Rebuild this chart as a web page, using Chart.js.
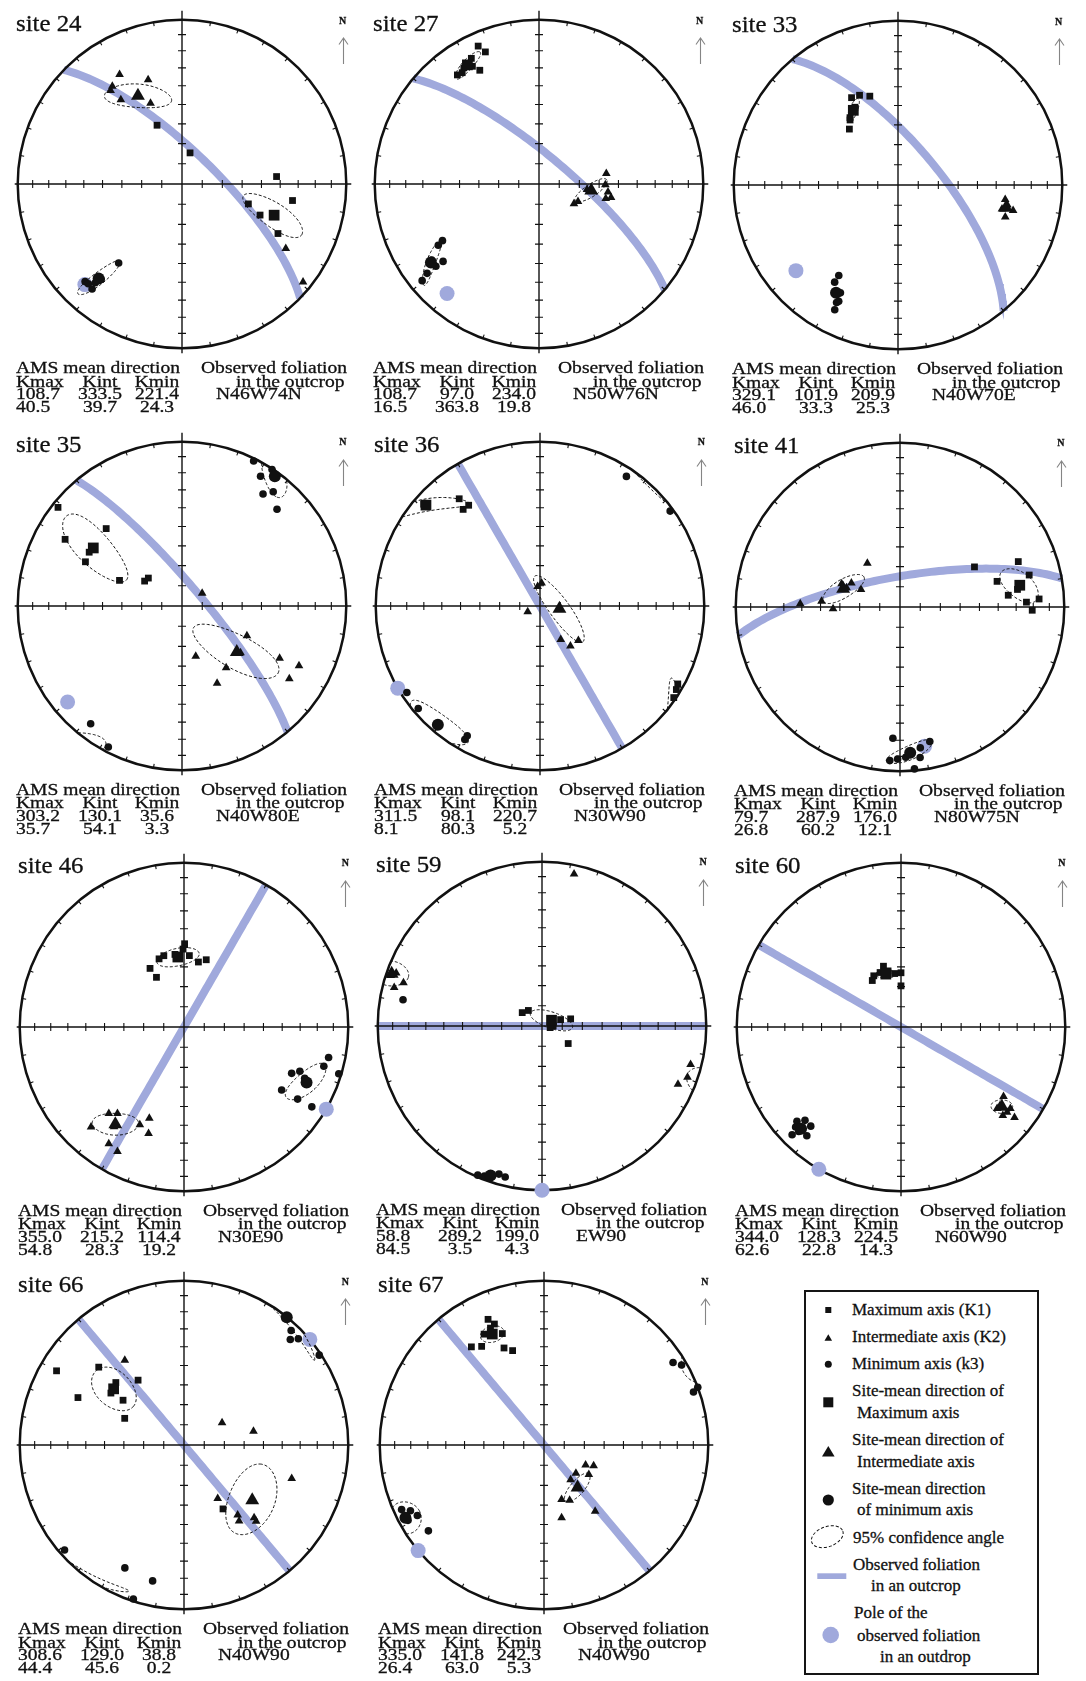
<!DOCTYPE html>
<html>
<head>
<meta charset="utf-8">
<title>AMS stereonets</title>
<script src="https://cdn.jsdelivr.net/npm/chart.js@4.4.1/dist/chart.umd.min.js"></script>
<style>
  html,body{margin:0;padding:0;background:#fff;}
  body{position:relative;width:1086px;height:1681px;overflow:hidden;font-family:"Liberation Serif","Times New Roman",serif;color:#111;}
  canvas.net{position:absolute;}
  .txt{position:absolute;white-space:nowrap;line-height:1;-webkit-text-stroke:0.3px #111;}
  #legend{position:absolute;left:804px;top:1290px;width:235px;height:385px;border:2px solid #151515;box-sizing:border-box;}
  #legendMarks{position:absolute;left:804px;top:1290px;}
</style>
</head>
<body>
<div id="legend"></div>
<svg id="legendMarks" width="235" height="385" viewBox="0 0 235 385"></svg>
<script>
// ---------------- data ----------------
const SITE_NAMES = ['site 24','site 27','site 33','site 35','site 36','site 41','site 46','site 59','site 60','site 66','site 67'];

// site-mean principal axes (trend, plunge in degrees)
const KMAX_TREND  = [108.7, 329.0, 329.1, 303.2, 311.5,  79.7, 355.0,  58.8, 344.0, 308.6, 335.0];
const KMAX_PLUNGE = [ 40.5,  16.5,  46.0,  35.7,   8.1,  26.8,  54.8,  84.5,  62.6,  44.4,  26.4];
const KINT_TREND  = [333.5,  97.0, 101.9, 130.1,  98.1, 287.9, 215.2, 289.2, 128.3, 129.0, 141.8];
const KINT_PLUNGE = [ 39.7,  63.8,  33.3,  54.1,  80.3,  60.2,  28.3,   3.5,  22.8,  45.6,  63.0];
const KMIN_TREND  = [221.4, 234.0, 209.9,  35.6, 220.7, 176.0, 114.4, 199.0, 224.5,  38.8, 242.3];
const KMIN_PLUNGE = [ 24.3,  19.8,  25.3,   3.3,   5.2,  12.1,  19.2,   4.3,  14.3,   0.2,   5.3];

// table cells printed differently from the plotted site 27 means: [site, row, column, text]
const TABLE_OVERRIDES = [[1, 0, 0, '108.7'], [1, 1, 1, '363.8']];

// observed foliation: printed code, dip direction and dip (degrees)
const FOLIATION_TEXT   = ['N46W74N','N50W76N','N40W70E','N40W80E','N30W90','N80W75N','N30E90','EW90','N60W90','N40W90','N40W90'];
const FOLIATION_DIPDIR = [44, 40, 50, 50, 60, 350, 300, 0, 30, 230, 50];
const FOLIATION_DIP    = [74, 76, 70, 80, 90, 75, 90, 90, 90, 90, 90];

// specimen axes [trend, plunge]
const S24_KMAX = [[337,58.1],[14.5,74.1],[85.5,41.8],[98.5,32.5],[106.7,55.3],[111.7,47.6],[117.3,34.6]];
const S24_KINT = [[330.3,24.3],[342,33.7],[324.5,27.8],[322.6,29.2],[324,36.8],[338.7,46.2],[121.9,26.5],[129,5.8]];
const S24_KMIN = [[218.7,38.3],[220.3,24.9],[224.8,17.4],[220.6,17],[223.2,17.8],[221.3,21.1]];

const S27_KMAX = [[336.2,9.1],[337.9,14.3],[332.5,23],[331.7,14.2],[327.1,16.9],[323.2,18.2],[325.4,18.8],[330.5,18.8]];
const S27_KINT = [[81.1,55.9],[90.6,56.8],[96.7,55.2],[102.2,55.8],[100.6,53.2],[114.2,68.8],[119.5,70.1],[96.4,66]];
const S27_KMIN = [[239.6,32.4],[238.7,29],[231.1,25.9],[231.4,20.8],[231.4,13.9],[230.4,8.5],[234.7,21.1]];

const S33_KMAX = [[332,39.6],[336.8,40.3],[342.4,42.7],[323.6,49.3],[319,52.8],[331,45],[324.5,48.3]];
const S33_KINT = [[97.7,34.5],[102.5,29],[106.6,32.4],[103,35.3],[100.4,32.8]];
const S33_KMIN = [[213.2,34.5],[213.1,30.1],[208.1,26.5],[207,21.6],[206.9,16],[207.6,20.4]];

const S35_KMAX = [[308.5,4],[299.7,19.2],[315.6,34.4],[294.6,35.6],[300.1,35],[292.3,56.2],[303.7,67.7],[309.7,68.3]];
const S35_KINT = [[57.6,78.2],[164.7,64.1],[144.4,51.9],[155.6,47.1],[114.6,54.2],[118.1,33.1],[117.1,21.1],[124.1,22.2],[128.6,52.4]];
const S35_KMIN = [[26.3,1.8],[31.2,8.5],[33.4,0.5],[35.9,17],[38.6,12],[44.5,18.6],[217.8,10.2],[207.6,3.6]];

const S36_KMAX = [[323,19.4],[321.5,25.8],[324.7,25.8],[311.2,6.6],[119.5,4.1],[124.4,1.5],[121.5,3]];
const S36_KINT = [[4,78.6],[353,80.3],[245,83.3],[148.2,70.5],[142.8,65],[132,64.3]];
const S36_KMIN = [[33.7,5.8],[53.9,2.2],[237,3.8],[229.9,3.5],[209.4,7.5],[209.3,10.4]];

const S41_KMAX = [[61.7,47.3],[69,23.9],[76.1,20.1],[75.2,38.8],[83.8,34.1],[87.8,24],[86.7,16.3],[91.4,20.6],[81.5,28.5]];
const S41_KINT = [[323.3,62.8],[291.8,58.6],[296.3,63],[294.2,68.8],[274.2,50.4],[271.8,39.1],[268.6,56.5],[289.7,61.7]];
const S41_KMIN = [[183.1,21.1],[183.8,7],[180.9,8.2],[172.4,8.4],[171.8,14.5],[167.5,17.3],[174.9,1.2],[177.8,9.3]];

const S46_KMAX = [[0.4,48],[359.3,50.8],[344.2,52.8],[339.9,53.6],[4.3,54.1],[12.5,56.7],[18.3,54.5],[329.9,56.1],[331,61.7],[352.9,53.3]];
const S46_KINT = [[222.9,18],[221,30.9],[217.6,34],[200.8,40.3],[204.3,35],[198.4,32.2],[212.8,16.6],[208.1,15.1],[215,26.7]];
const S46_KMIN = [[101.9,11],[105.7,12.6],[106.8,1.8],[113.3,29.4],[110.9,25.5],[114.6,18.2],[122.8,30],[122.4,19.2],[122,9.1],[113,21.3]];

const S59_KMAX = [[304.1,78.2],[318.8,79.8],[71,80.3],[76,75.4],[123.8,74.4],[90,84.5],[101,85.9]];
const S59_KINT = [[11.9,6],[290,6.2],[287.3,12.7],[284.6,7.8],[104.5,7.3],[109.4,6.8],[113.2,10.9],[288.5,3.3]];
const S59_KMIN = [[280.7,15],[203.3,1.3],[199.4,3],[196.2,6.8],[193.7,6],[201,2.4]];

const S60_KMAX = [[343.9,58.4],[332,61.1],[328.3,62.8],[353.2,63.2],[0,63],[0,69.6],[347,61.3],[339,60.9]];
const S60_KINT = [[124.1,25.6],[128.4,24.1],[126.7,18.1],[128.6,12.6],[131,19],[128.8,18.3],[130.3,24.3]];
const S60_KMIN = [[227.8,15.6],[225.8,19.6],[222.3,19.5],[224.4,12],[225.3,7.5],[220.9,13.5],[226.5,12.6]];

const S66_KMAX = [[300.2,11.2],[312.4,30.4],[294.1,30],[324.7,50],[312.5,43.1],[305.4,44.6],[306.3,52],[294.2,57.5],[148.6,52.4]];
const S66_KINT = [[325.1,37.1],[59.6,68.1],[78.8,54.5],[107.3,31.9],[147.8,58.4],[142.5,45.4],[144.1,42.3],[136.1,38.4],[136.6,36.3]];
const S66_KMIN = [[38.9,0],[43.1,5.1],[45.2,9.7],[47.1,5.6],[56.4,1.3],[228.7,3.6],[205.7,18.1],[193,16.2],[198.2,1.5]];

const S67_KMAX = [[336,17.4],[337.7,21.5],[331.6,24.3],[339.5,28.4],[323.5,26.6],[327.7,29.7],[337.6,36.3],[341.6,39.3],[335.4,22.8]];
const S67_KINT = [[115.6,67.1],[112.8,63.2],[131.4,68.9],[123.3,63.3],[142.5,68.3],[162.1,61.5],[155.1,59.6],[142.3,47.8],[166.4,52.4]];
const S67_KMIN = [[57.4,7.5],[59.8,3.5],[69.4,0],[70.5,3.9],[245.6,5.4],[243.8,10.3],[240.9,12.8],[241,6],[233.4,13.4]];

// 95% confidence ellipses: [axis (0 max, 1 int, 2 min), major-axis end trend, end plunge, minor half-angle]
const S24_CONF = [[0,112.9,21.9,5.5],[1,352.7,48,6],[2,218.8,39.8,2.5]];
const S27_CONF = [[0,335.8,12.8,3],[1,86.5,56,3],[2,240.2,32,2]];
const S33_CONF = [[0,335.1,41.6,2]];
const S35_CONF = [[0,295.1,59.4,7.5],[1,125,29.4,8],[2,41.1,13.1,5]];
const S36_CONF = [[0,325.3,25.6,3],[1,130,62.2,5],[2,207.9,7.7,7]];
const S41_CONF = [[0,86,17,6],[1,309.7,66.8,4.5],[2,166.8,17.8,4]];
const S46_CONF = [[0,11.6,52.2,4.5],[1,205.9,36.3,5.5],[2,105.6,11.5,5.5]];
const S59_CONF = [[0,93,74.9,4],[1,290,14.5,4.5]];
const S60_CONF = [[0,354.8,63.6,2],[1,126.2,17.2,3]];
const S66_CONF = [[0,307.2,58.2,8],[1,103.9,49.8,12],[2,57,6,2.5]];
const S67_CONF = [[0,340.1,29.1,4.5],[1,122.7,63.5,3.5],[2,242,15.3,6]];

// ---------------- layout ----------------
const CENTERS = [[181.5,184],[538.5,184],[897.5,185],[181.7,605.5],[540.3,605.5],[899.7,606.5],
                 [184.3,1026.5],[542,1025.5],[900.7,1026.5],[184.3,1445],[543.7,1445]];
const NET_R = 171.5;      // primitive radius, px
const HALF = 190;         // half size of each net canvas, px
const INK = '#111111';
const BAND = '#a0a9dc';

const SPECIMENS = [
  [S24_KMAX,S24_KINT,S24_KMIN],[S27_KMAX,S27_KINT,S27_KMIN],[S33_KMAX,S33_KINT,S33_KMIN],
  [S35_KMAX,S35_KINT,S35_KMIN],[S36_KMAX,S36_KINT,S36_KMIN],[S41_KMAX,S41_KINT,S41_KMIN],
  [S46_KMAX,S46_KINT,S46_KMIN],[S59_KMAX,S59_KINT,S59_KMIN],[S60_KMAX,S60_KINT,S60_KMIN],
  [S66_KMAX,S66_KINT,S66_KMIN],[S67_KMAX,S67_KINT,S67_KMIN]];
const CONFIDENCE = [S24_CONF,S27_CONF,S33_CONF,S35_CONF,S36_CONF,S41_CONF,S46_CONF,S59_CONF,S60_CONF,S66_CONF,S67_CONF];

// ---------------- lower-hemisphere equal-area projection ----------------
const D2R = Math.PI / 180;
function vec(trend, plunge) {
  const t = trend * D2R, p = plunge * D2R;
  return [Math.cos(p) * Math.sin(t), Math.cos(p) * Math.cos(t), Math.sin(p)];
}
function project(v) {
  let [e, n, d] = v;
  if (d < 0) { e = -e; n = -n; d = -d; }
  const k = 1 / Math.sqrt(1 + d);
  return { x: e * k, y: n * k };
}
const toPoint = tp => project(vec(tp[0], tp[1]));
const norm = v => { const l = Math.hypot(v[0], v[1], v[2]); return [v[0]/l, v[1]/l, v[2]/l]; };
const cross = (a, b) => [a[1]*b[2]-a[2]*b[1], a[2]*b[0]-a[0]*b[2], a[0]*b[1]-a[1]*b[0]];

function greatCircle(dipDir, dip) {
  const s = (dipDir - 90) * D2R, dd = dipDir * D2R, dp = dip * D2R;
  const sv = [Math.sin(s), Math.cos(s), 0];
  const dv = [Math.cos(dp) * Math.sin(dd), Math.cos(dp) * Math.cos(dd), Math.sin(dp)];
  const pts = [];
  for (let a = 0; a <= 180; a += 2) {
    const c = Math.cos(a * D2R), si = a === 180 ? 0 : Math.sin(a * D2R);
    pts.push(project([c*sv[0]+si*dv[0], c*sv[1]+si*dv[1], c*sv[2]+si*dv[2]]));
  }
  return pts;
}

function confidenceEllipse(center, end, minorDeg) {
  const m = vec(center[0], center[1]), e = vec(end[0], end[1]);
  const dot = m[0]*e[0] + m[1]*e[1] + m[2]*e[2];
  const u = norm([e[0]-dot*m[0], e[1]-dot*m[1], e[2]-dot*m[2]]);
  const w = norm(cross(m, u));
  const ta = Math.tan(Math.acos(Math.min(1, dot))), tb = Math.tan(minorDeg * D2R);
  const pts = [];
  let prev = null;
  for (let f = 0; f <= 360; f += 3) {
    const c = Math.cos(f * D2R), s = Math.sin(f * D2R);
    const p = project(norm([m[0]+ta*c*u[0]+tb*s*w[0], m[1]+ta*c*u[1]+tb*s*w[1], m[2]+ta*c*u[2]+tb*s*w[2]]));
    if (prev && Math.hypot(p.x - prev.x, p.y - prev.y) > 0.5) pts.push({ x: null, y: null });
    pts.push(p);
    prev = p;
  }
  return pts;
}

// ---------------- net frame: crosshair, ticks, primitive, north arrow ----------------
const netFrame = {
  id: 'netFrame',
  afterDatasetDraw(chart, args) {
    if (args.index !== 0) return;
    const { ctx } = chart;
    const sx = chart.scales.x, sy = chart.scales.y;
    const cx = sx.getPixelForValue(0), cy = sy.getPixelForValue(0);
    const R = sx.getPixelForValue(1) - cx;
    ctx.save();
    ctx.strokeStyle = INK;
    ctx.lineWidth = 1.4;
    ctx.beginPath();
    ctx.moveTo(cx - R - 3, cy); ctx.lineTo(cx + R + 5, cy);
    ctx.moveTo(cx, cy - R - 9); ctx.lineTo(cx, cy + R + 5);
    ctx.stroke();
    ctx.lineWidth = 1.1;
    ctx.beginPath();
    for (let p = 10; p <= 80; p += 10) {
      const rr = Math.SQRT2 * Math.sin((90 - p) / 2 * D2R) * R;
      for (const sgn of [-1, 1]) {
        ctx.moveTo(cx + sgn * rr, cy - 4); ctx.lineTo(cx + sgn * rr, cy + 4);
        ctx.moveTo(cx - 4, cy + sgn * rr); ctx.lineTo(cx + 4, cy + sgn * rr);
      }
    }
    for (let az = 10; az < 360; az += 10) {
      if (az % 90 === 0) continue;
      const s = Math.sin(az * D2R), c = Math.cos(az * D2R);
      ctx.moveTo(cx + s * R, cy - c * R); ctx.lineTo(cx + s * (R - 4), cy - c * (R - 4));
    }
    ctx.stroke();
    ctx.lineWidth = 2.5;
    ctx.beginPath();
    ctx.arc(cx, cy, R, 0, Math.PI * 2);
    ctx.stroke();
    // north arrow
    const ax = cx + 161.5, tip = cy - 146;
    ctx.strokeStyle = '#858585';
    ctx.lineWidth = 1.1;
    ctx.beginPath();
    ctx.moveTo(ax, cy - 120); ctx.lineTo(ax, tip);
    ctx.moveTo(ax - 4.5, tip + 6.5); ctx.lineTo(ax, tip); ctx.lineTo(ax + 4.5, tip + 6.5);
    ctx.stroke();
    ctx.restore();
  }
};

// ---------------- text helper ----------------
function placeText(str, x, baseline, size, opt = {}) {
  const el = document.createElement('div');
  el.className = 'txt';
  el.textContent = str;
  el.style.fontSize = size + 'px';
  if (opt.weight) el.style.fontWeight = opt.weight;
  el.style.top = (baseline - 0.8375 * size) + 'px';
  if (opt.align === 'center') {
    const w = 120;
    el.style.left = (x - w / 2) + 'px';
    el.style.width = w + 'px';
    el.style.textAlign = 'center';
    el.style.transformOrigin = '50% 0';
  } else {
    el.style.left = x + 'px';
    el.style.transformOrigin = '0 0';
  }
  if (opt.stretch) el.style.transform = 'scaleX(' + opt.stretch + ')';
  document.body.appendChild(el);
}

// ---------------- build the nets ----------------
const lim = HALF / NET_R;
SITE_NAMES.forEach((name, i) => {
  const [cx, cy] = CENTERS[i];
  const canvas = document.createElement('canvas');
  canvas.className = 'net';
  canvas.width = HALF * 2; canvas.height = HALF * 2;
  canvas.style.left = (cx - HALF) + 'px';
  canvas.style.top = (cy - HALF) + 'px';
  document.body.appendChild(canvas);

  const means = [[KMAX_TREND[i], KMAX_PLUNGE[i]], [KINT_TREND[i], KINT_PLUNGE[i]], [KMIN_TREND[i], KMIN_PLUNGE[i]]];
  const poleTrend = (FOLIATION_DIPDIR[i] + 180) % 360, polePlunge = 90 - FOLIATION_DIP[i];

  const datasets = [
    { label: 'foliation', data: greatCircle(FOLIATION_DIPDIR[i], FOLIATION_DIP[i]), showLine: true,
      borderColor: BAND, borderWidth: 8, borderCapStyle: 'butt', pointRadius: 0, order: 10 },
    { label: 'pole', data: [toPoint([poleTrend, polePlunge])], pointRadius: 7.5,
      backgroundColor: BAND, borderWidth: 0, order: 9 }
  ];
  CONFIDENCE[i].forEach(([axis, et, ep, minor]) => {
    datasets.push({ label: 'confidence', data: confidenceEllipse(means[axis], [et, ep], minor), showLine: true,
      spanGaps: false, borderColor: INK, borderWidth: 1, borderDash: [3, 2], pointRadius: 0, order: 6 });
  });
  const styles = ['rect', 'triangle', 'circle'];
  const small = [4.8, 5.0, 3.8], big = [7.6, 8.0, 6.0];
  SPECIMENS[i].forEach((list, k) => {
    datasets.push({ label: 'K' + (k + 1), data: list.map(toPoint), pointStyle: styles[k], pointRadius: small[k],
      backgroundColor: INK, borderWidth: 0, order: 3 });
  });
  means.forEach((m, k) => {
    datasets.push({ label: 'mean K' + (k + 1), data: [toPoint(m)], pointStyle: styles[k], pointRadius: big[k],
      backgroundColor: INK, borderWidth: 0, order: 1 });
  });

  new Chart(canvas, {
    type: 'scatter',
    data: { datasets },
    options: {
      responsive: false, animation: false, events: [], devicePixelRatio: 1,
      layout: { padding: 0 },
      scales: {
        x: { type: 'linear', min: -lim, max: lim, display: false },
        y: { type: 'linear', min: -lim, max: lim, display: false }
      },
      plugins: { legend: { display: false }, tooltip: { enabled: false } },
      elements: { line: { tension: 0 } }
    },
    plugins: [netFrame]
  });

  // labels
  placeText(name, cx - 166, cy - 153, 23, { stretch: 1.08 });
  placeText('N', cx + 157.5, cy - 160, 10, { weight: 'bold' });

  const trends = means.map(m => m[0].toFixed(1));
  const plunges = means.map(m => m[1].toFixed(1));
  TABLE_OVERRIDES.forEach(([s, row, col, text]) => {
    if (s === i) (row === 0 ? trends : plunges)[col] = text;
  });
  const base = [cy + 189.5, cy + 203, cy + 215.5, cy + 228.5];
  const st = { stretch: 1.15 };
  const stc = { stretch: 1.15, align: 'center' };
  const fs = 17;
  placeText('AMS mean direction', cx - 166, base[0], fs, st);
  placeText('Observed foliation', cx + 19, base[0], fs, st);
  placeText('Kmax', cx - 166, base[1], fs, st);
  placeText('Kint', cx - 82, base[1], fs, stc);
  placeText('Kmin', cx - 25, base[1], fs, stc);
  placeText('in the outcrop', cx + 54, base[1], fs, st);
  placeText(trends[0], cx - 166, base[2], fs, st);
  placeText(trends[1], cx - 82, base[2], fs, stc);
  placeText(trends[2], cx - 25, base[2], fs, stc);
  placeText(FOLIATION_TEXT[i], cx + 34, base[2], fs, st);
  placeText(plunges[0], cx - 166, base[3], fs, st);
  placeText(plunges[1], cx - 82, base[3], fs, stc);
  placeText(plunges[2], cx - 25, base[3], fs, stc);
});

// ---------------- legend ----------------
const LEGEND_LINES = [
  ['Maximum axis (K1)', 852, 1315], ['Intermediate axis (K2)', 852, 1342], ['Minimum axis (k3)', 852, 1369],
  ['Site-mean direction of', 852, 1396.5], ['Maximum axis', 857, 1418], ['Site-mean direction of', 852, 1445],
  ['Intermediate axis', 857, 1467.5], ['Site-mean direction', 852, 1494], ['of minimum axis', 857, 1515.5],
  ['95% confidence angle', 853, 1543], ['Observed foliation', 853, 1570], ['in an outcrop', 871, 1591.5],
  ['Pole of the', 854, 1618], ['observed foliation', 857, 1641], ['in an outdrop', 880, 1662]
];
LEGEND_LINES.forEach(([t, x, b]) => placeText(t, x, b, 17));

const svg = document.getElementById('legendMarks');
const NS = 'http://www.w3.org/2000/svg';
function mark(tag, attrs) {
  const el = document.createElementNS(NS, tag);
  for (const k in attrs) el.setAttribute(k, attrs[k]);
  svg.appendChild(el);
}
mark('rect', { x: 21.3, y: 17, width: 6, height: 6, fill: INK });
mark('polygon', { points: '24.3,44.2 28.1,50.7 20.5,50.7', fill: INK });
mark('circle', { cx: 24.3, cy: 74.3, r: 3.5, fill: INK });
mark('rect', { x: 19.3, y: 107.3, width: 10, height: 10, fill: INK });
mark('polygon', { points: '24.3,156 30.6,166.6 18,166.6', fill: INK });
mark('circle', { cx: 24.3, cy: 210, r: 5.6, fill: INK });
mark('ellipse', { cx: 23.3, cy: 246.7, rx: 16.5, ry: 10, transform: 'rotate(-20 23.3 246.7)',
  fill: 'none', stroke: INK, 'stroke-width': 1, 'stroke-dasharray': '3 2' });
mark('rect', { x: 13.3, y: 283.3, width: 29, height: 5.7, fill: BAND });
mark('circle', { cx: 26.7, cy: 345, r: 8.3, fill: BAND });
</script>
</body>
</html>
